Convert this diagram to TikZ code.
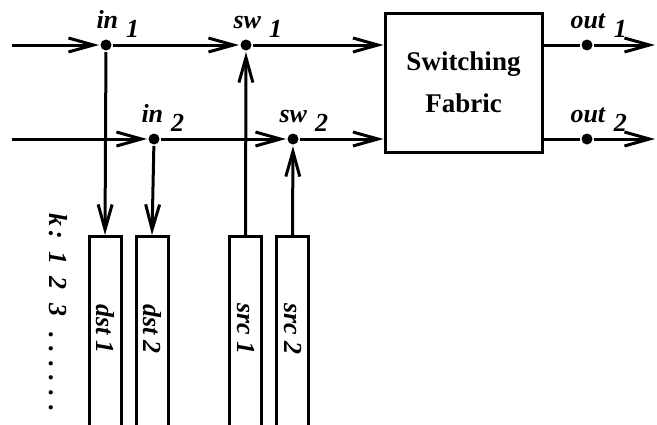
\documentclass[tikz,border=0pt]{standalone}
\usepackage{fontspec}
\setmainfont{Liberation Serif}
\usetikzlibrary{arrows.meta}
% label with a lowered index
\newcommand{\lblsub}[2]{\textbf{\textit{#1}}\hspace{4pt}\raisebox{-4.5pt}{\fontsize{13}{14}\selectfont\textbf{\textit{#2}}}}

\begin{document}
\begin{tikzpicture}[x=0.5pt,y=-0.5pt,line width=1.5pt,
		>={Straight Barb[length=12.5pt,width=7pt]},
		dot/.style={circle,fill,inner sep=0pt,minimum size=5.5pt},
		lbl/.style={anchor=base west,inner sep=0pt,font=\fontsize{13}{14}\selectfont},
		buf/.style={draw,anchor=north,minimum width=16pt,minimum height=110pt,inner sep=0pt},
		buftxt/.style={rotate=-90,inner sep=0pt,font=\fontsize{13}{14}\selectfont\bfseries\itshape}]
	\useasboundingbox (0,0) rectangle (657,424);
	\clip (0,0) rectangle (657,424);
	% switch points
	\node[dot] (in1) at (106,45) {};
	\node[dot] (sw1) at (246,45) {};
	\node[dot] (in2) at (154,139) {};
	\node[dot] (sw2) at (293,139) {};
	\node[dot] (out1) at (587,45) {};
	\node[dot] (out2) at (587,139) {};
	\coordinate (w1) at (12,45);
	\coordinate (w2) at (12,139);
	\coordinate (e1) at (655,45);
	\coordinate (e2) at (655,139);
	\node[draw,minimum width=78.5pt,minimum height=69.5pt,align=center,font=\fontsize{13.5}{20}\selectfont\bfseries] (fab) at (463.5,82.5) {Switching\\[1pt]Fabric};
	% buffers
	\node[buf] (dst1) at (105,235) {};
	\node[buf] (dst2) at (152,235) {};
	\node[buf] (src1) at (245.5,235) {};
	\node[buf] (src2) at (292.5,235) {};
	\node[buftxt] (dst1t) at (105,329) {dst 1};
	\node[buftxt] (dst2t) at (152,329) {dst 2};
	\node[buftxt] (src1t) at (245.5,329) {src 1};
	\node[buftxt] (src2t) at (292.5,329) {src 2};
	\node[buftxt,anchor=west] (kidx) at (58,212) {k\,:\hspace{6pt}1\hspace{6pt}2\hspace{7pt}3\hspace{8pt}.\hspace{4pt}.\hspace{4pt}.\hspace{4pt}.\hspace{4pt}.\hspace{4pt}.};
	% labels
	\node[lbl] (in1l) at (95,28) {\lblsub{in}{1}};
	\node[lbl] (sw1l) at (232,28) {\lblsub{sw}{1}};
	\node[lbl] (in2l) at (140,122) {\lblsub{in}{2}};
	\node[lbl] (sw2l) at (278,122) {\lblsub{sw}{2}};
	\node[lbl] (out1l) at (569,28) {\lblsub{out}{1}};
	\node[lbl] (out2l) at (569,122) {\lblsub{out}{2}};
	% lines
	\draw[->] (w1) -- (in1);
	\draw[->] (in1) -- (sw1);
	\draw[->] (sw1) -- (fab.west |- sw1);
	\draw[->] (w2) -- (in2);
	\draw[->] (in2) -- (sw2);
	\draw[->] (sw2) -- (fab.west |- sw2);
	\draw (fab.east |- out1) -- (out1);
	\draw[->] (out1) -- (e1);
	\draw (fab.east |- out2) -- (out2);
	\draw[->] (out2) -- (e2);
	\draw[->] (in1) -- (dst1.north);
	\draw[->] (in2) -- (dst2.north);
	\draw[->] (src1.north) -- (sw1);
	\draw[->] (src2.north) -- (sw2);
\end{tikzpicture}
\end{document}
